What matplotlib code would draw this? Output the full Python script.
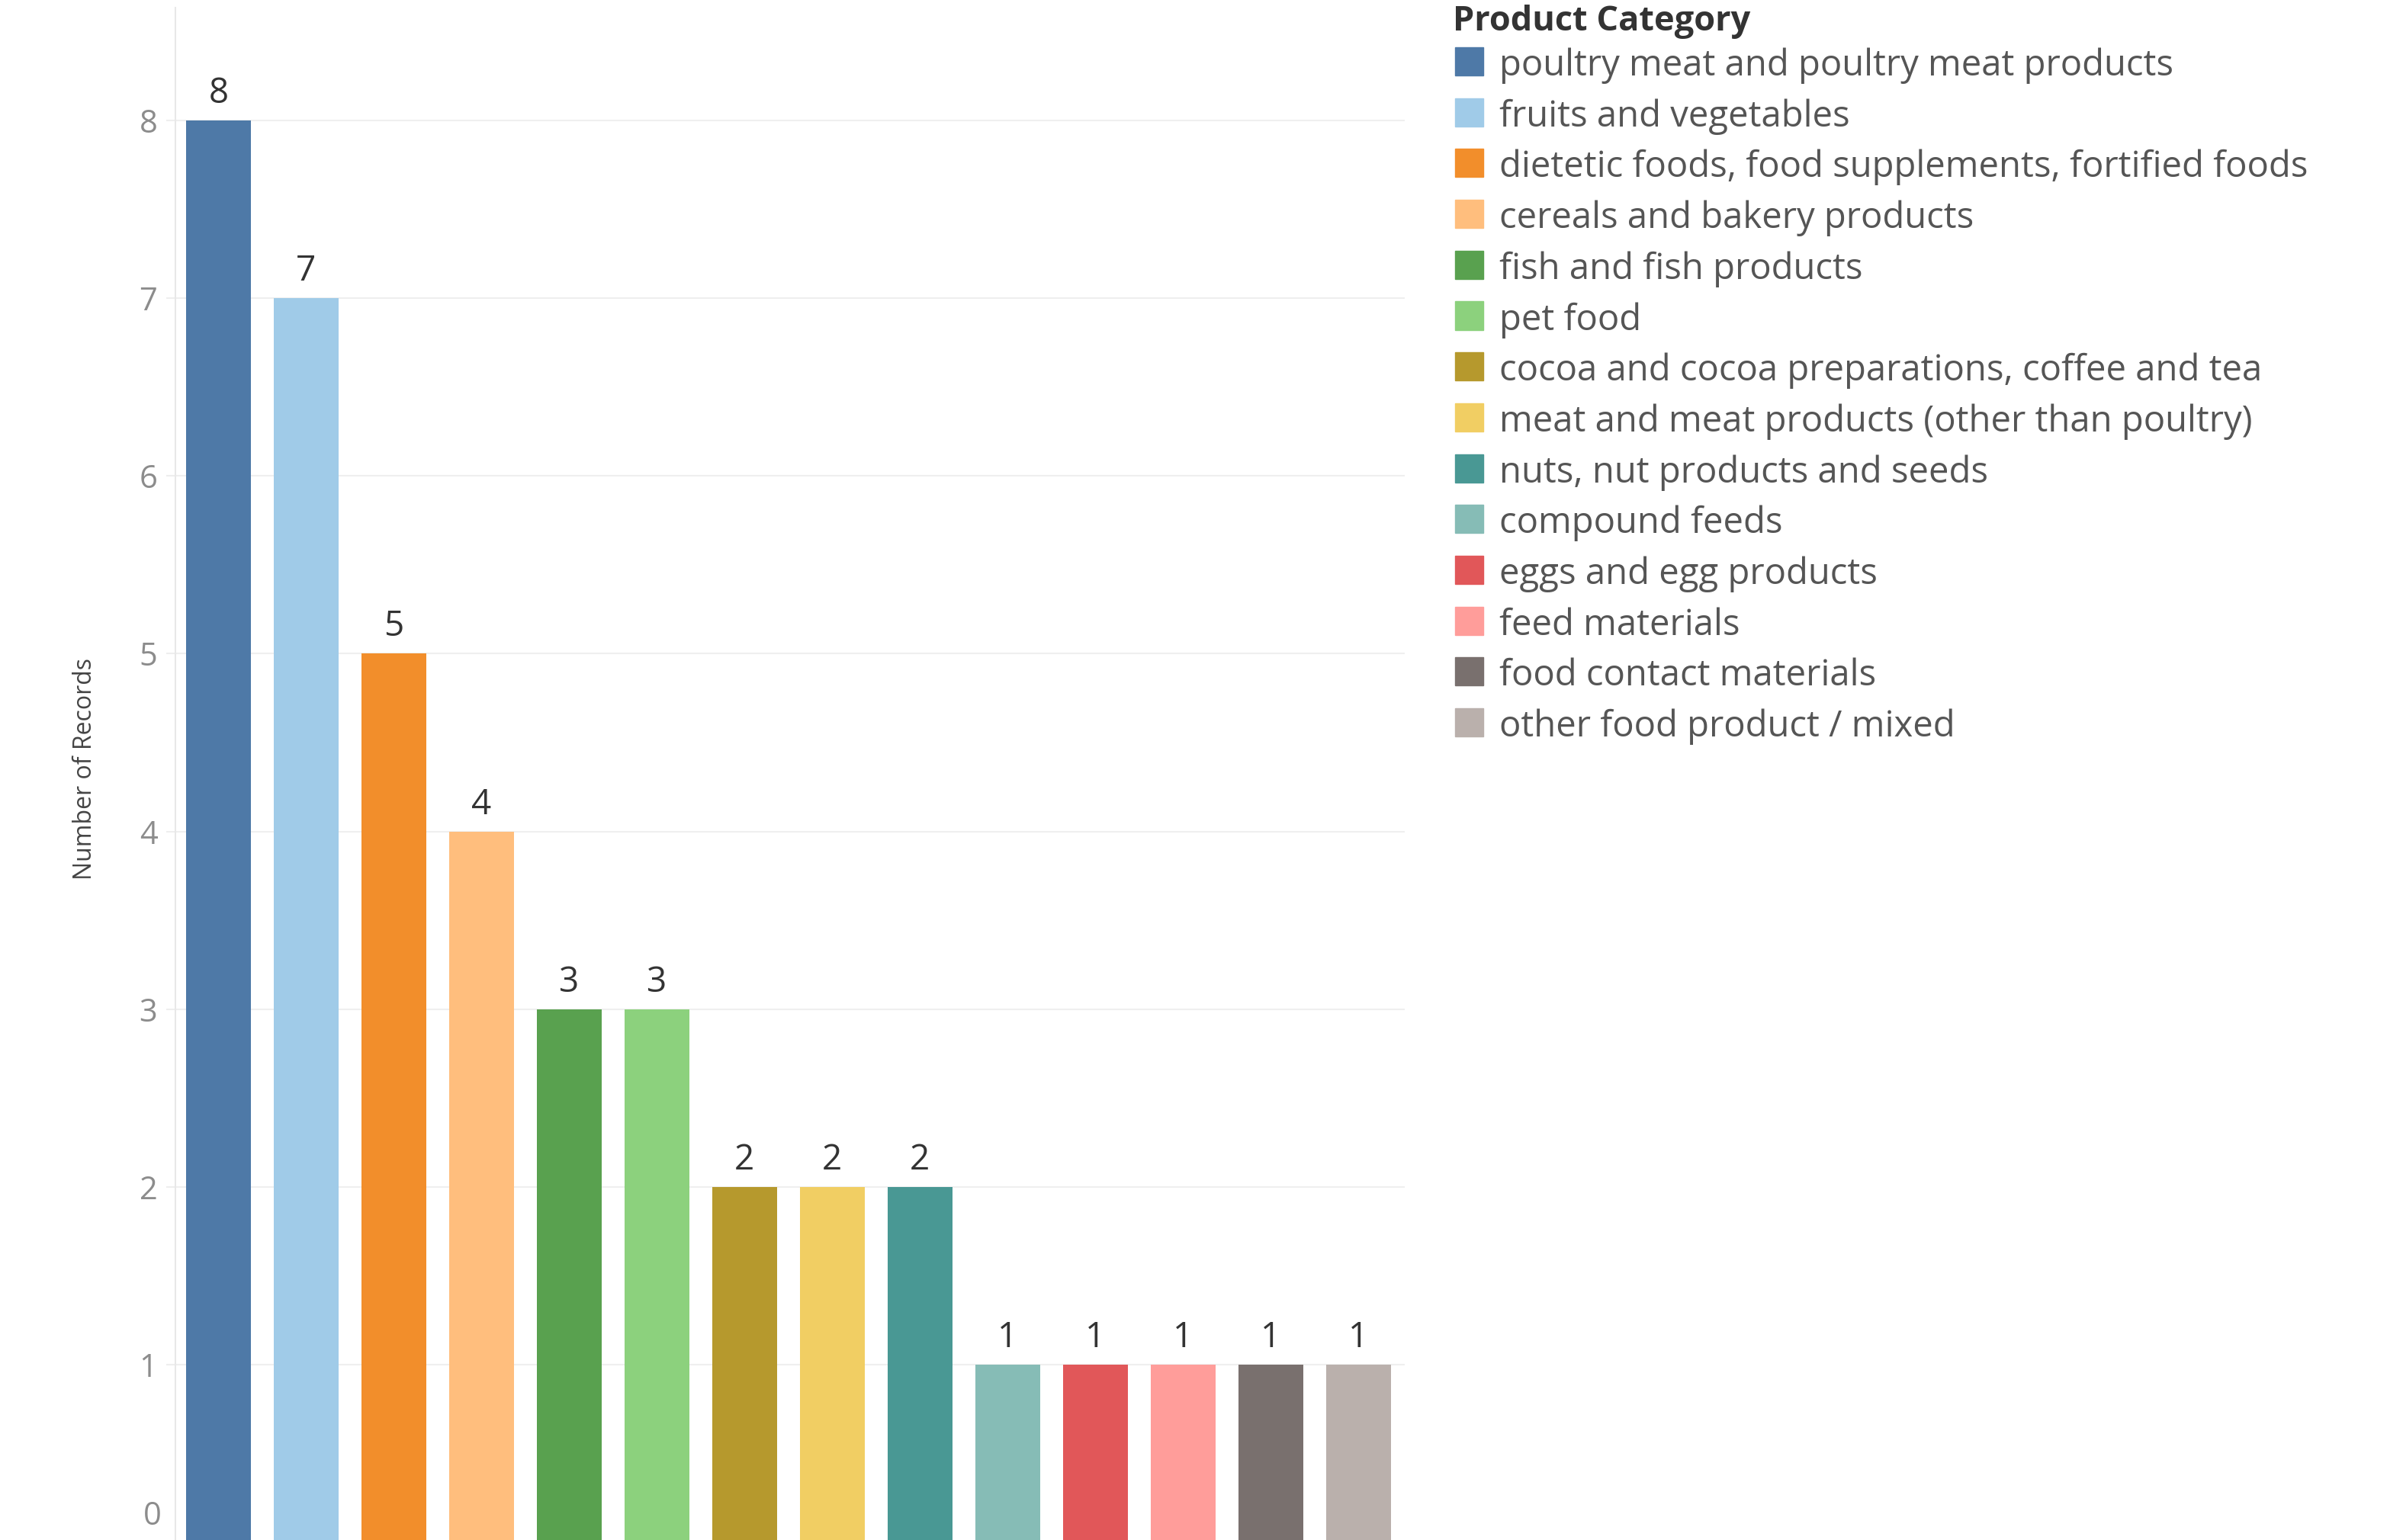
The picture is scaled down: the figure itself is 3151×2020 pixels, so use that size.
import numpy as np
import matplotlib
matplotlib.use("Agg")
import matplotlib.pyplot as plt
from matplotlib.patches import Rectangle

plt.rcParams['font.family'] = ['Open Sans', 'DejaVu Sans']

categories = ['poultry meat and poultry meat products',
              'fruits and vegetables',
              'dietetic foods, food supplements, fortified foods',
              'cereals and bakery products',
              'fish and fish products',
              'pet food',
              'cocoa and cocoa preparations, coffee and tea',
              'meat and meat products (other than poultry)',
              'nuts, nut products and seeds',
              'compound feeds',
              'eggs and egg products',
              'feed materials',
              'food contact materials',
              'other food product / mixed']
records = [8, 7, 5, 4, 3, 3, 2, 2, 2, 1, 1, 1, 1, 1]
colors = ['#4E79A7', '#A0CBE8', '#F28E2B', '#FFBE7D', '#59A14F', '#8CD17D',
          '#B6992D', '#F1CE63', '#499894', '#86BCB6', '#E15759', '#FF9D9A',
          '#79706E', '#BAB0AC']
yTicks = [1, 2, 3, 4, 5, 6, 7, 8]

W, H = 3151, 2020
fig = plt.figure(figsize=(W / 100, H / 100), dpi=100)
fig.patch.set_facecolor('white')

# axes placed in pixel terms: left 230, right 1842, top 10, bottom just below the image
left, right, top, bottom = 230, 1842, 10, 2023
ax = fig.add_axes([left / W, (H - bottom) / H, (right - left) / W, (bottom - top) / H])

x = np.arange(len(records))
ax.bar(x, records, width=0.74, color=colors, zorder=2)
ax.set_xlim(-0.49, len(records) - 1 + 0.53)
ax.set_ylim(0, 8.635)

for xi, v in zip(x, records):
    ax.annotate(str(v), (xi, v), xytext=(0, 16.5), textcoords='offset points',
                ha='center', va='baseline', fontsize=33, color='#333333')

ax.set_yticks(yTicks)
ax.set_yticklabels([str(t) for t in yTicks])
ax.tick_params(axis='y', length=9, width=1.5, color='#eeeeee', pad=8,
               labelsize=30, labelcolor='#8c8c8c')
ax.tick_params(axis='x', bottom=False, labelbottom=False)
# zero label sits above the image edge, like the original
ax.annotate('0', (0, 0), xycoords=ax.get_yaxis_transform(), xytext=(-13, 9),
            textcoords='offset points', ha='right', va='bottom',
            fontsize=30, color='#8c8c8c', annotation_clip=False)

ax.grid(axis='y', color='#efefef', linewidth=1.5, zorder=0)
for s in ['top', 'right', 'bottom']:
    ax.spines[s].set_visible(False)
ax.spines['left'].set_color('#e8e8e8')
ax.spines['left'].set_linewidth(1.5)

fig.text(112 / W, 1 - 1008 / H, 'Number of Records', rotation=90, ha='center', va='center',
         fontsize=23, color='#444444')

# legend
fig.text(1905 / W, 1 - 6 / H, 'Product Category', ha='left', va='top',
         fontsize=32.5, fontweight='bold', color='#333333')
rowTop, rowStep = 62, 66.7
for i, (name, c) in enumerate(zip(categories, colors)):
    y0 = rowTop + i * rowStep
    fig.patches.append(Rectangle((1908 / W, 1 - (y0 + 37) / H), 37 / W, 37 / H,
                                 transform=fig.transFigure, color=c, figure=fig))
    fig.text(1966 / W, 1 - (y0 + 37) / H, name, ha='left', va='baseline',
             fontsize=34, color='#555555')

fig.savefig('out.png', dpi=100, facecolor='white')
